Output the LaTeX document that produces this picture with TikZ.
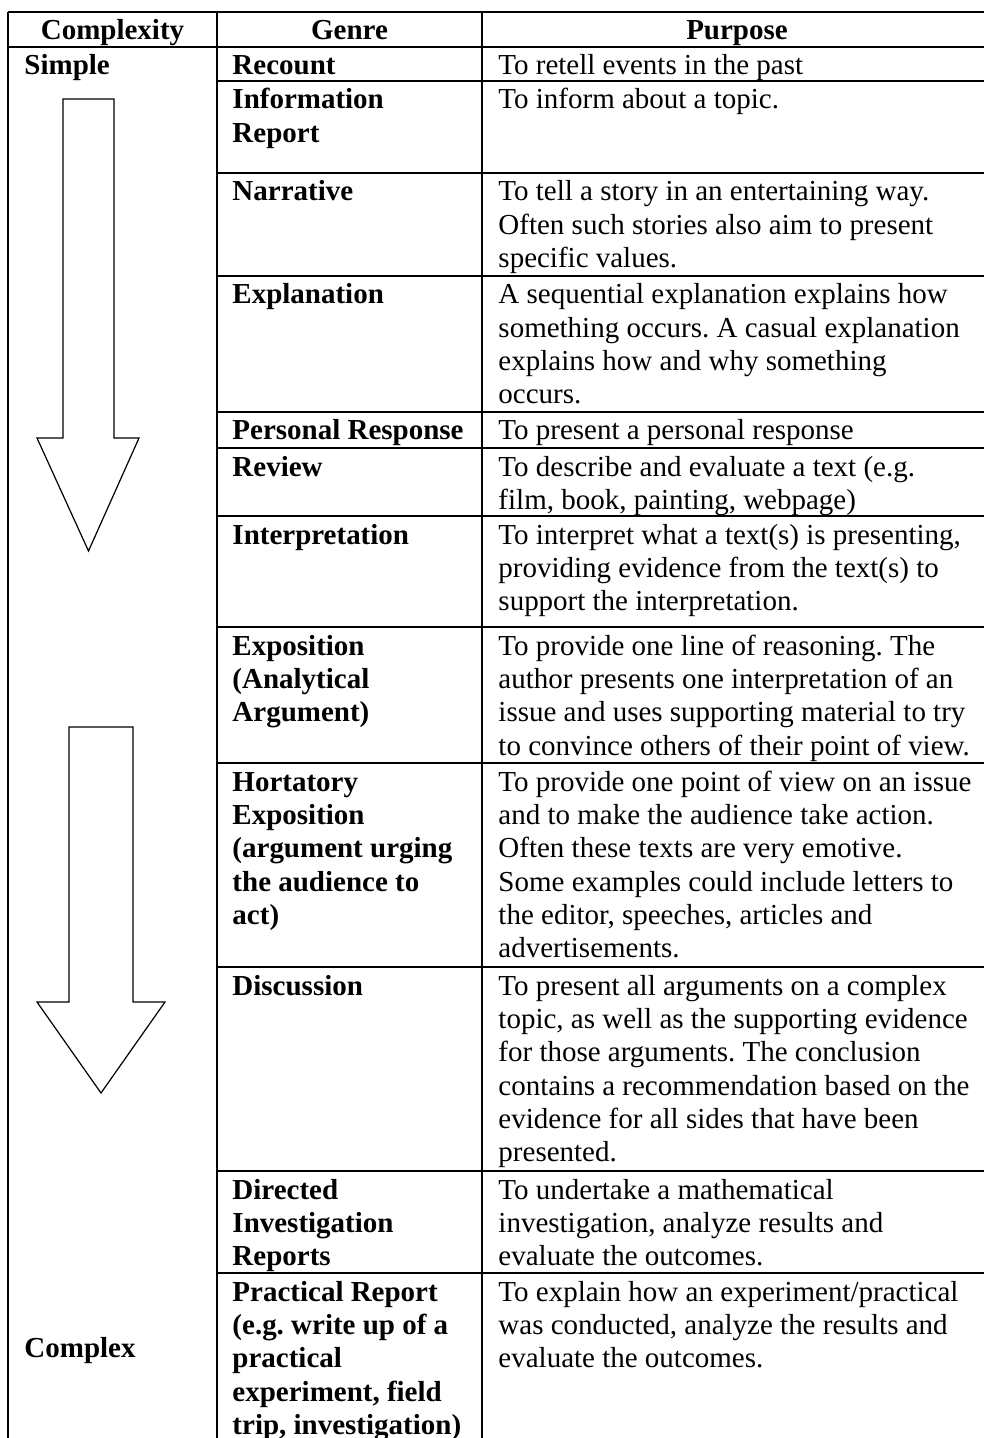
\documentclass[tikz,border=0pt]{standalone}
\usepackage{fontspec}
\setmainfont{Liberation Serif}
\usepackage{tikz}
\usetikzlibrary{positioning}

\newcommand{\cellfont}{\fontsize{12}{13.8}\selectfont\frenchspacing}

\begin{document}
\begin{tikzpicture}[
      x=0.414pt, y=-0.414pt,
      head/.style={font=\cellfont\bfseries, anchor=base, inner sep=0},
      cell/.style={anchor=north west, align=flush left, inner sep=0, yshift=-1.73pt,
        execute at begin node=\strut},
      genre/.style={cell, text width=105pt, font=\cellfont\bfseries},
      purpose/.style={cell, text width=225pt, font=\cellfont},
      rule/.style={line width=0.8pt},
      blockarrow/.style={draw, line width=0.5pt, fill=white, line join=miter}
  ]
    \useasboundingbox (0,0) rectangle (984,1438);

    % --- Table frame ---
    \draw[rule] (8,12) -- (984,12);
    \draw[rule] (8,47) -- (984,47);
    \draw[rule] (8,12) -- (8,1438);
    \draw[rule] (217,12) -- (217,1438);
    \draw[rule] (482,12) -- (482,1438);
    \foreach \y in {81,173,276,412,448,516,627,763,967,1171,1273} {
      \draw[rule] (217,\y) -- (984,\y);
    }

    % --- Header row ---
    \node[head] (hcomp) at (112.5,40) {Complexity};
    \node[head] (hgenre) at (349.5,40) {Genre};
    \node[head] (hpurp) at (737,40) {Purpose};

    % --- Complexity column (two block arrows) ---
    \node[genre] (simple) at (24,47) {Simple};
    \draw[blockarrow] (63,99) -- (114,99) -- (114,438) -- (139,438)
      -- (88.5,551) -- (37,438) -- (63,438) -- cycle;
    \draw[blockarrow] (69,727) -- (133,727) -- (133,1002) -- (165,1002)
      -- (101,1093) -- (37,1002) -- (69,1002) -- cycle;
    \node[genre] (complex) at (24,1329.5) {Complex};

    % --- Genre column (nodes sit at the top of their row) ---
    \node[genre] (g1)  at (232,47)   {Recount};
    \node[genre] (g2)  at (232,81)   {Information\\Report};
    \node[genre] (g3)  at (232,173)  {Narrative};
    \node[genre] (g4)  at (232,276)  {Explanation};
    \node[genre] (g5)  at (232,412)  {Personal Response};
    \node[genre] (g6)  at (232,448)  {Review};
    \node[genre] (g7)  at (232,516)  {Interpretation};
    \node[genre] (g8)  at (232,627)  {Exposition\\(Analytical\\Argument)};
    \node[genre] (g9)  at (232,763)  {Hortatory\\Exposition\\(argument urging\\the audience to\\act)};
    \node[genre] (g10) at (232,967)  {Discussion};
    \node[genre] (g11) at (232,1171) {Directed\\Investigation\\Reports};
    \node[genre] (g12) at (232,1273) {Practical Report\\(e.g. write up of a\\practical\\experiment, field\\trip, investigation)};

    % --- Purpose column ---
    \node[purpose] (p1)  at (498,47)   {To retell events in the past};
    \node[purpose] (p2)  at (498,81)   {To inform about a topic.};
    \node[purpose] (p3)  at (498,173)  {To tell a story in an entertaining way.\\Often such stories also aim to present\\specific values.};
    \node[purpose] (p4)  at (498,276)  {A sequential explanation explains how\\something occurs. A casual explanation\\explains how and why something\\occurs.};
    \node[purpose] (p5)  at (498,412)  {To present a personal response};
    \node[purpose] (p6)  at (498,448)  {To describe and evaluate a text (e.g.\\film, book, painting, webpage)};
    \node[purpose] (p7)  at (498,516)  {To interpret what a text(s) is presenting,\\providing evidence from the text(s) to\\support the interpretation.};
    \node[purpose] (p8)  at (498,627)  {To provide one line of reasoning. The\\author presents one interpretation of an\\issue and uses supporting material to try\\to convince others of their point of view.};
    \node[purpose] (p9)  at (498,763)  {To provide one point of view on an issue\\and to make the audience take action.\\Often these texts are very emotive.\\Some examples could include letters to\\the editor, speeches, articles and\\advertisements.};
    \node[purpose] (p10) at (498,967)  {To present all arguments on a complex\\topic, as well as the supporting evidence\\for those arguments. The conclusion\\contains a recommendation based on the\\evidence for all sides that have been\\presented.};
    \node[purpose] (p11) at (498,1171) {To undertake a mathematical\\investigation, analyze results and\\evaluate the outcomes.};
    \node[purpose] (p12) at (498,1273) {To explain how an experiment/practical\\was conducted, analyze the results and\\evaluate the outcomes.};

\end{tikzpicture}
\end{document}
